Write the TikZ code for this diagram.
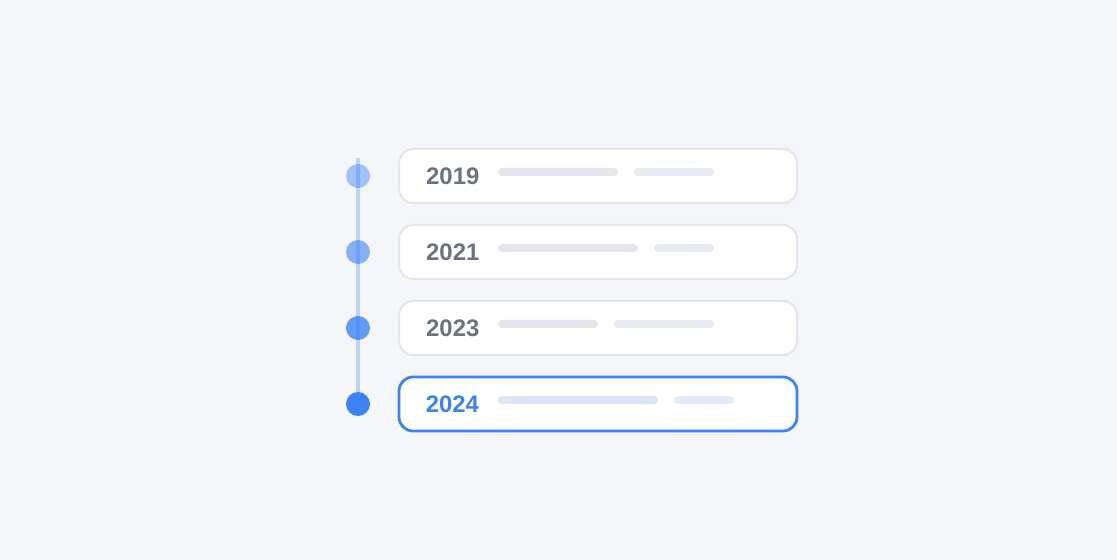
\documentclass[tikz,border=0pt]{standalone}
\usepackage{fontspec}
\setmainfont{Liberation Sans}
\usetikzlibrary{positioning}

\definecolor{bgcol}{HTML}{F5F6FA}
\definecolor{cardline}{HTML}{E2E5EB}
\definecolor{yeartext}{HTML}{6B7280}
\definecolor{accent}{HTML}{3B82F6}
\definecolor{barcol}{HTML}{E4E6EB}
\definecolor{barlight}{HTML}{E7EAF1}
\definecolor{barblue}{HTML}{DCE5F7}
\definecolor{barblue2}{HTML}{E3E9F6}
\definecolor{trackcol}{HTML}{BBD2FA}

\tikzset{
  card/.style={draw=cardline, line width=2bp, fill=white, rounded corners=14bp,
    minimum width=398bp, minimum height=54bp, inner sep=0pt},
  dot/.style={circle, fill=accent, minimum size=24bp, inner sep=0pt},
  year/.style={inner sep=0pt, text=yeartext,
    font=\fontsize{24}{28}\selectfont\bfseries},
}

\begin{document}
\begin{tikzpicture}[x=1bp, y=-1bp]
    %Background
    \fill[bgcol] (0,0) rectangle (1117,560);

    %Track
    \coordinate (tracktop) at (358,158);
    \coordinate (trackend) at (358,404);
    \draw[trackcol, line width=4bp] (tracktop) -- (trackend);

    %Dots
    \node[dot, opacity=0.45] (dot1) at (358,176) {};
    \node[dot, opacity=0.6] (dot2) at (358,252) {};
    \node[dot, opacity=0.8] (dot3) at (358,328) {};
    \node[dot] (dot4) at (358,404) {};

    %Cards
    \node[card] (card1) at (598,176) {};
    \node[card] (card2) at (598,252) {};
    \node[card] (card3) at (598,328) {};
    \node[card, draw=accent, line width=2.8bp] (card4) at (598,404) {};

    %Years
    \node[year, anchor=west, right=28bp of card1.west] (year1) {2019};
    \node[year, anchor=west, right=28bp of card2.west] (year2) {2021};
    \node[year, anchor=west, right=28bp of card3.west] (year3) {2023};
    \node[year, anchor=west, right=28bp of card4.west, text=accent] (year4) {2024};

    %Bars
    \fill[barcol, rounded corners=3.8bp] (498,168) rectangle (618,176);
    \fill[barlight, rounded corners=3.8bp] (634,168) rectangle (714,176);

    \fill[barcol, rounded corners=3.8bp] (498,244) rectangle (638,252);
    \fill[barlight, rounded corners=3.8bp] (654,244) rectangle (714,252);

    \fill[barcol, rounded corners=3.8bp] (498,320) rectangle (598,328);
    \fill[barlight, rounded corners=3.8bp] (614,320) rectangle (714,328);

    \fill[barblue, rounded corners=3.8bp] (498,396) rectangle (658,404);
    \fill[barblue2, rounded corners=3.8bp] (674,396) rectangle (734,404);
  \end{tikzpicture}
\end{document}
